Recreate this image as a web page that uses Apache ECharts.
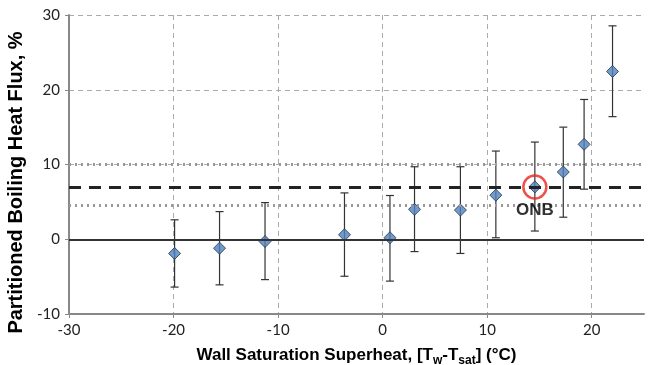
<!DOCTYPE html>
<html>
<head>
<meta charset="utf-8">
<script src="https://cdn.jsdelivr.net/npm/echarts@6/dist/echarts.min.js"></script>
<style>
html, body { margin: 0; padding: 0; background: #fff; }
#chart { width: 655px; height: 365px; }
</style>
</head>
<body>
<div id="chart"></div>
<script>
// superheat (x) and partitioned boiling heat flux (y)
var superheat = [-19.9, -15.6, -11.25, -3.65, 0.7, 3.05, 7.44, 10.83, 14.56, 17.28, 19.27, 21.99];
var heatFlux = [-1.9, -1.2, -0.3, 0.6, 0.2, 4.0, 3.9, 5.9, 7.0, 9.0, 12.7, 22.45];
var errUpper = [2.6, 3.7, 4.9, 6.2, 5.85, 9.7, 9.7, 11.8, 13.0, 15.0, 18.7, 28.55];
var errLower = [-6.4, -6.1, -5.4, -4.95, -5.6, -1.65, -1.9, 0.2, 1.1, 2.95, 6.7, 16.4];
// reference levels
var onbLevel = 7;
var bandUpper = 10;
var bandLower = 4.5;
var onbIndex = 8;

var chart = echarts.init(document.getElementById('chart'));

var points = [];
var bars = [];
for (var i = 0; i < superheat.length; i++) {
	points.push([superheat[i], heatFlux[i]]);
	bars.push([superheat[i], errLower[i], errUpper[i]]);
}

var option = {
	animation: false,
	grid: { left: 69, right: 11, top: 15, bottom: 51, outerBoundsMode: 'none' },
	xAxis: {
		type: 'value',
		min: -30, max: 25, interval: 10,
		name: '{a|Wall Saturation Superheat, [T}{s|w}{a|-T}{s|sat}{a|] (°C)}',
		nameLocation: 'middle',
		nameGap: 29,
		nameTextStyle: {
			rich: {
				a: { fontFamily: 'Liberation Sans', fontWeight: 'bold', fontSize: 17, color: '#000', lineHeight: 24, verticalAlign: 'middle' },
				s: { fontFamily: 'Liberation Sans', fontWeight: 'bold', fontSize: 12, color: '#000', lineHeight: 8, verticalAlign: 'bottom' }
			}
		},
		axisLine: { onZero: false, lineStyle: { color: '#888', width: 2 } },
		axisTick: { show: true, length: 4, lineStyle: { color: '#888' } },
		axisLabel: { fontFamily: 'Lato', fontSize: 15, color: '#222', margin: 9, showMaxLabel: false },
		splitLine: { show: true, showMaxLine: false, lineStyle: { color: '#aaa', type: [5, 4], width: 1 } }
	},
	yAxis: {
		type: 'value',
		min: -10, max: 30, interval: 10,
		name: 'Partitioned Boiling Heat Flux, %',
		nameLocation: 'middle',
		nameGap: 33,
		nameTextStyle: { fontFamily: 'Liberation Sans', fontWeight: 'bold', fontSize: 20, color: '#000', padding: [0, 36, 0, 0] },
		axisLine: { onZero: false, lineStyle: { color: '#888', width: 2 } },
		axisTick: { show: true, length: 4, lineStyle: { color: '#888' } },
		axisLabel: { fontFamily: 'Lato', fontSize: 15, color: '#222', margin: 9 },
		splitLine: { show: true, lineStyle: { color: '#aaa', type: [5, 4], width: 1 } }
	},
	series: [
		{
			// horizontal reference lines
			type: 'line',
			data: [],
			markLine: {
				silent: true,
				symbol: 'none',
				label: { show: false },
				data: [
					{ yAxis: 0, lineStyle: { color: '#333', width: 2, type: 'solid' } },
					{ yAxis: bandUpper, lineStyle: { color: '#999', width: 3, type: [2, 4] } },
					{ yAxis: bandLower, lineStyle: { color: '#999', width: 3, type: [2, 4] } },
					{ yAxis: onbLevel, lineStyle: { color: '#222', width: 3, type: [12, 8] } }
				]
			}
		},
		{
			// error bars
			type: 'custom',
			data: bars,
			z: 3,
			renderItem: function (params, api) {
				var x = api.value(0);
				var lo = api.coord([x, api.value(1)]);
				var hi = api.coord([x, api.value(2)]);
				var cap = 4;
				var style = { stroke: '#333', lineWidth: 1.2 };
				return {
					type: 'group',
					children: [
						{ type: 'line', shape: { x1: lo[0], y1: lo[1], x2: hi[0], y2: hi[1] }, style: style },
						{ type: 'line', shape: { x1: hi[0] - cap, y1: hi[1], x2: hi[0] + cap, y2: hi[1] }, style: style },
						{ type: 'line', shape: { x1: lo[0] - cap, y1: lo[1], x2: lo[0] + cap, y2: lo[1] }, style: style }
					]
				};
			}
		},
		{
			type: 'scatter',
			data: points,
			z: 4,
			symbol: 'diamond',
			symbolSize: 12,
			itemStyle: { color: '#4F81BD', borderColor: '#1f3550', borderWidth: 1 }
		},
		{
			// ONB marker
			type: 'scatter',
			data: [[superheat[onbIndex], heatFlux[onbIndex]]],
			z: 5,
			symbol: 'circle',
			symbolSize: 23,
			itemStyle: { color: 'rgba(0,0,0,0)', borderColor: '#e8261f', borderWidth: 2.5 },
			label: {
				show: true,
				position: 'bottom',
				distance: 2,
				formatter: 'ONB',
				fontFamily: 'Liberation Sans',
				fontWeight: 'bold',
				fontSize: 17,
				color: '#000'
			}
		}
	]
};

chart.setOption(option);
</script>
</body>
</html>
